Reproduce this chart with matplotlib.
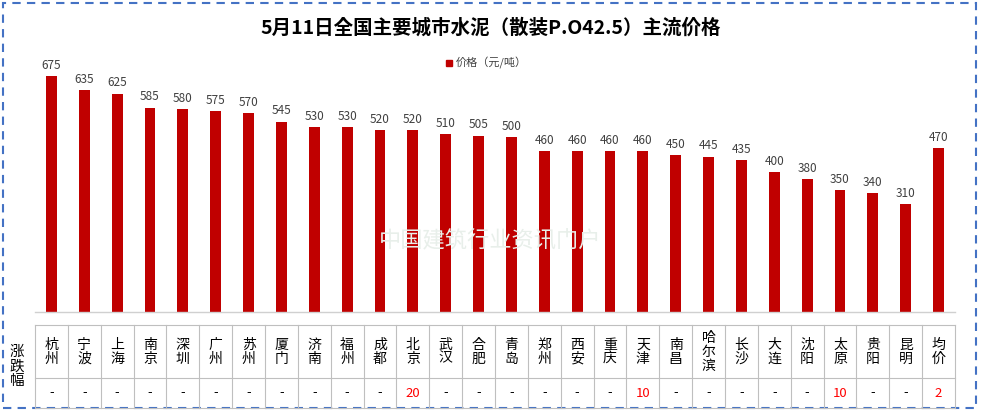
import matplotlib
matplotlib.use("Agg")
import matplotlib.pyplot as plt
from matplotlib import font_manager
from matplotlib.patches import Rectangle
from matplotlib.lines import Line2D

cities = ["杭州","宁波","上海","南京","深圳","广州","苏州","厦门","济南","福州","成都","北京","武汉","合肥","青岛","郑州","西安","重庆","天津","南昌","哈尔滨","长沙","大连","沈阳","太原","贵阳","昆明","均价"]
prices = [675,635,625,585,580,575,570,545,530,530,520,520,510,505,500,460,460,460,460,450,445,435,400,380,350,340,310,470]
changes = ["-","-","-","-","-","-","-","-","-","-","-","20","-","-","-","-","-","-","10","-","-","-","-","-","10","-","-","2"]

names = {f.name for f in font_manager.fontManager.ttflist}
fam = "Noto Sans CJK SC"
if fam not in names:
    cands = sorted(n for n in names if "Sans CJK" in n)
    if cands:
        fam = cands[0]
plt.rcParams["font.family"] = [fam, "DejaVu Sans"]

W, H = 981, 411
fig = plt.figure(figsize=(W/100, H/100), dpi=100)
n = len(cities)
L, R = 35, 955
top, base = 50, 312
ax = fig.add_axes([L/W, 1-base/H, (R-L)/W, (base-top)/H])
x = list(range(n))
ax.bar(x, prices, width=0.33, color="#C00000")
for xi, v in zip(x, prices):
    ax.text(xi, v+12, str(v), ha="center", va="bottom", fontsize=8.5, color="#404040")
ax.set_xlim(-0.5, n-0.5)
ax.set_ylim(0, 750)
ax.axis("off")
fig.add_artist(Line2D([L/W, R/W], [1-base/H]*2, color="#D0D0D0", lw=1))

fig.text(0.5, 1-28/H, "5月11日全国主要城市水泥（散装P.O42.5）主流价格", ha="center", va="center", fontsize=14, fontweight="bold")
fig.add_artist(Rectangle((446/W, 1-66/H), 6/W, 6/H, color="#C00000"))
fig.text(456/W, 1-63/H, "价格（元/吨）", ha="left", va="center", fontsize=8, color="#404040")
fig.text(0.5, 1-240/H, "中国建筑行业资讯门户", ha="center", va="center", fontsize=16, color="#E8EFEA", zorder=0)

# table
t0, t1, t2 = 325, 378, 408
cw = (R-L)/n
gc = "#BFBFBF"
for y in (t0, t1, t2):
    fig.add_artist(Line2D([L/W, R/W], [1-y/H]*2, color=gc, lw=0.8))
for i in range(n+1):
    xx = L + i*cw
    fig.add_artist(Line2D([xx/W]*2, [1-t0/H, 1-t2/H], color=gc, lw=0.8))
for i, (c, ch) in enumerate(zip(cities, changes)):
    cx = (L + (i+0.5)*cw)/W
    fig.text(cx, 1-(t0+t1)/2/H, "\n".join(c), ha="center", va="center", fontsize=10, linespacing=1.0)
    fig.text(cx, 1-(t1+t2)/2/H, ch, ha="center", va="center", fontsize=9.5,
             color="red" if ch != "-" else "black")
fig.text(17/W, 1-(t0+t2)/2/H, "涨\n跌\n幅", ha="center", va="center", fontsize=10.5, linespacing=1.05)

fig.add_artist(Rectangle((3/W, 3/H), (W-8)/W, (H-6)/H, fill=False, ec="#4472C4", lw=1.5, ls=(0, (4, 3))))
fig.savefig("out.png", dpi=100)
